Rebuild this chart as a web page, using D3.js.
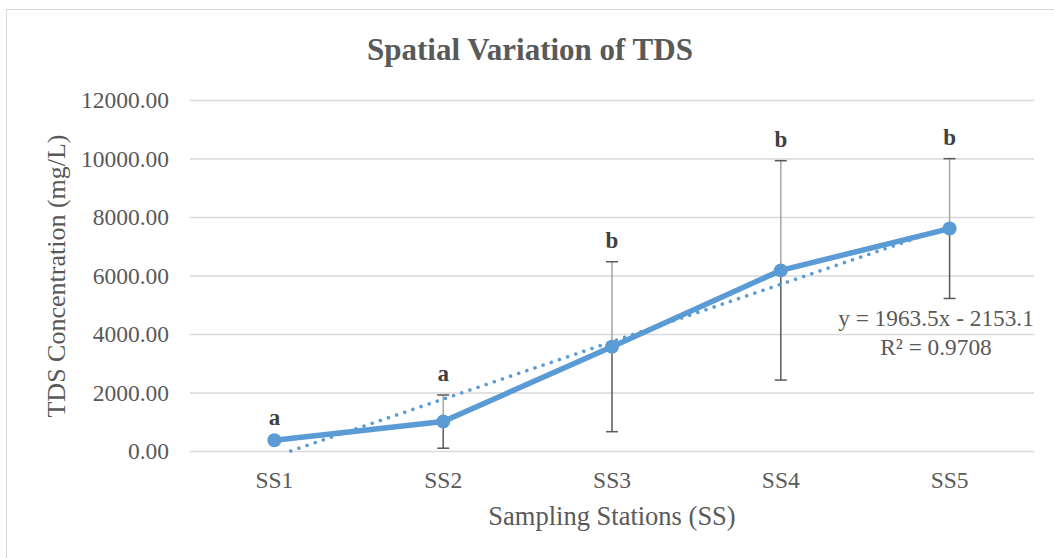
<!DOCTYPE html>
<html>
<head>
<meta charset="utf-8">
<script src="https://cdn.jsdelivr.net/npm/d3@7"></script>
<style>
    body { margin: 0; background: #fff; }
    svg { display: block; }
    svg text { font-family: "Liberation Serif", "Times New Roman", serif !important; }
</style>
</head>
<body>
<div id="chart"></div>
<script>
// données
const stations = ["SS1", "SS2", "SS3", "SS4", "SS5"];
const tdsMean = [370, 1005, 3565, 6175, 7605];
const tdsError = [40, 910, 2905, 3750, 2390];
const groupLetters = ["a", "a", "b", "b", "b"];
const yTicks = [0, 2000, 4000, 6000, 8000, 10000, 12000];
// droite de tendance (Excel)
const trendSlope = 1963.5;
const trendIntercept = -2153.1;
const trendLabel = ["y = 1963.5x - 2153.1", "R² = 0.9708"];

const width = 1054;
const height = 558;
const marginTop = 100;
const marginRight = 20;
const marginBottom = 107;
const marginLeft = 190;
const blue = "#5b9bd5";
const grey = "#595959";

const svg = d3.select("#chart").append("svg")
    .attr("width", width)
    .attr("height", height)
    .attr("viewBox", [0, 0, width, height]);

// cadre du graphique
svg.append("rect")
    .attr("x", 6.5)
    .attr("y", 9.5)
    .attr("width", width + 10)
    .attr("height", height + 10)
    .attr("fill", "#fff")
    .attr("stroke", "#d9d9d9")
    .attr("stroke-width", 1);

const x = d3.scaleBand()
    .domain(stations)
    .range([marginLeft, width - marginRight]);

const y = d3.scaleLinear()
    .domain([0, 12000])
    .range([height - marginBottom, marginTop]);

const cx = d => x(d) + x.bandwidth() / 2;

// titre
svg.append("text")
    .attr("x", 530)
    .attr("y", 60)
    .attr("text-anchor", "middle")
    .attr("font-weight", "bold")
    .attr("font-size", 31)
    .attr("fill", grey)
    .text("Spatial Variation of TDS");

// grille + axe y
svg.append("g")
    .attr("transform", `translate(${marginLeft},0)`)
    .call(d3.axisLeft(y).tickValues(yTicks).tickFormat(d3.format(".2f")).tickSize(-(width - marginRight - marginLeft)).tickPadding(21))
    .call(g => g.select(".domain").remove())
    .call(g => g.selectAll(".tick line").attr("stroke", "#d9d9d9").attr("stroke-width", 1.5))
    .call(g => g.selectAll(".tick text")
        .attr("fill", grey)
        .attr("font-size", 23.5));

// axe x
svg.append("g")
    .attr("transform", `translate(0,${height - marginBottom})`)
    .call(d3.axisBottom(x).tickSize(0).tickPadding(20))
    .call(g => g.select(".domain").remove())
    .call(g => g.selectAll(".tick text")
        .attr("fill", grey)
        .attr("font-size", 23.5));

// titres des axes
svg.append("text")
    .attr("x", 612)
    .attr("y", 525)
    .attr("text-anchor", "middle")
    .attr("font-size", 26.5)
    .attr("fill", grey)
    .text("Sampling Stations (SS)");

svg.append("text")
    .attr("transform", "rotate(-90)")
    .attr("x", -276)
    .attr("y", 65)
    .attr("text-anchor", "middle")
    .attr("font-size", 26)
    .attr("fill", grey)
    .text("TDS Concentration (mg/L)");

// barres d'erreur
const bars = svg.append("g")
    .selectAll("g")
    .data(stations)
    .join("g");

bars.append("line")
    .attr("x1", cx).attr("x2", cx)
    .attr("y1", (d, i) => y(tdsMean[i]))
    .attr("y2", (d, i) => y(tdsMean[i] + tdsError[i]))
    .attr("stroke", "#a6a6a6")
    .attr("stroke-width", 1.5);

bars.append("line")
    .attr("x1", cx).attr("x2", cx)
    .attr("y1", (d, i) => y(tdsMean[i]))
    .attr("y2", (d, i) => y(tdsMean[i] - tdsError[i]))
    .attr("stroke", grey)
    .attr("stroke-width", 1.5);

[1, -1].forEach(s => {
    bars.append("line")
        .attr("x1", d => cx(d) - 6).attr("x2", d => cx(d) + 6)
        .attr("y1", (d, i) => y(tdsMean[i] + s * tdsError[i]))
        .attr("y2", (d, i) => y(tdsMean[i] + s * tdsError[i]))
        .attr("stroke", grey)
        .attr("stroke-width", 1.5);
});

// droite de tendance, coupée à 0
const xStart = -trendIntercept / trendSlope;
const trendPts = [xStart, stations.length].map(k => [
    x(stations[0]) + x.bandwidth() / 2 + (k - 1) * x.step(),
    y(trendSlope * k + trendIntercept)
]);

svg.append("path")
    .attr("d", d3.line()(trendPts))
    .attr("fill", "none")
    .attr("stroke", blue)
    .attr("stroke-width", 3.5)
    .attr("stroke-linecap", "round")
    .attr("stroke-dasharray", "0.1 8.5");

// ligne principale
svg.append("path")
    .datum(stations)
    .attr("fill", "none")
    .attr("stroke", blue)
    .attr("stroke-width", 5.5)
    .attr("stroke-linejoin", "round")
    .attr("d", d3.line()
        .x(cx)
        .y((d, i) => y(tdsMean[i])));

svg.append("g")
    .selectAll("circle")
    .data(stations)
    .join("circle")
    .attr("cx", cx)
    .attr("cy", (d, i) => y(tdsMean[i]))
    .attr("r", 7)
    .attr("fill", blue);

// lettres de groupes
svg.append("g")
    .selectAll("text")
    .data(stations)
    .join("text")
    .attr("x", cx)
    .attr("y", (d, i) => y(tdsMean[i] + tdsError[i]) - 14)
    .attr("text-anchor", "middle")
    .attr("font-weight", "bold")
    .attr("font-size", 23)
    .attr("fill", "#404040")
    .text((d, i) => groupLetters[i]);

// équation de tendance
svg.append("g")
    .selectAll("text")
    .data(trendLabel)
    .join("text")
    .attr("x", 936)
    .attr("y", (d, i) => 326 + i * 29)
    .attr("text-anchor", "middle")
    .attr("font-size", 23.3)
    .attr("fill", grey)
    .text(d => d);
</script>
</body>
</html>
